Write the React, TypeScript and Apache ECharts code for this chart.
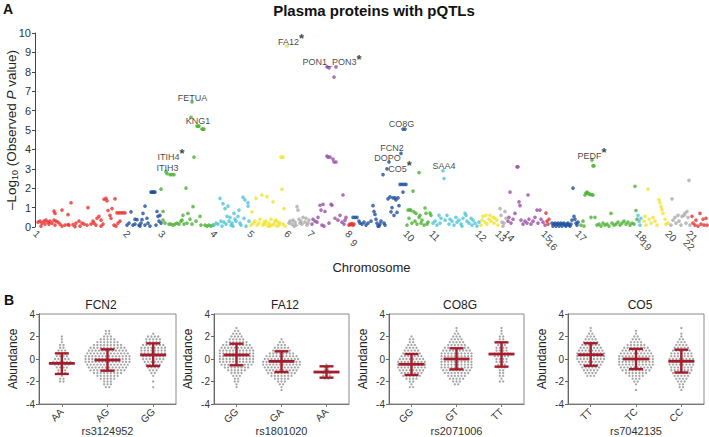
import React, { useEffect, useRef } from 'react';
import * as echarts from 'echarts';

const FONT = '"Liberation Sans", Arial, Helvetica, sans-serif';

// ---------- Panel A: Manhattan plot ----------
const chromosomeNames = ['1','2','3','4','5','6','7','8','9','10','11','12','13','14','15','16','17','18','19','20','21','22'];
const chromosomeTickPos = [0, 90, 125, 177, 214, 251, 274, 312, 317, 370, 396, 442, 462, 470, 508, 513, 542, 602, 607, 632, 653, 650];
const lowerRowChromosomes = ['9', '16', '19', '22'];
const chromosomeColors = ['#e8322e', '#1f4f9e', '#4cb133', '#4fc4da', '#f1e42a', '#ababab', '#9b4ea7'];

const chr1 = [[3,0.25],[5,0.3],[7,0.2],[9,0.3],[11,0.35],[13,0.25],[15,0.3],[17,0.2],[19,0.35],[21,0.3],[23,0.25],[25,0.15],[20,0.1],[14,0.15],[19,0.82],[20,0.7],[27,0.87],[33,0.64],[36,1.25],[34,0.1],[27,0.05],[30,0.1],[38,0.12],[41,0.2],[44,0.3],[47,0.2],[49,0.15],[52,0.1],[53,1.0],[56,0.15],[59,0.2],[61,0.1],[62,0.45],[64,0.55],[66,0.05],[68,0.15],[69,1.43],[71,1.48],[72,1.35],[73,0.85],[75,0.6],[66,0.35],[77,0.95],[79,0.1],[80,1.45],[81,0.05],[83,0.2],[85,0.3],[82,0.73],[84,0.73],[86,0.73],[88,0.73],[90,0.73],[76,0.45],[58,0.3],[45,0.05],[40,0.02],[33,0.12],[10,0.15],[6,0.05]];
const chr2 = [[92,0.1],[94,0.2],[96,0.78],[98,0.1],[100,0.15],[102,0.38],[104,0.1],[106,0.2],[107,0.38],[108,0.7],[110,1.08],[110,0.1],[112,0.45],[113,0.2],[115,0.05],[116,1.8],[117,1.8],[118,1.8],[119,1.8],[120,1.8],[121,0.1],[122,0.8],[123,0.55],[124,0.3],[125,0.6],[126,0.2],[100,0.4],[105,0.05]];
const chr3 = [[126,1.95],[128,0.8],[128,0.35],[131,2.85],[132,2.75],[135,2.7],[137,2.7],[139,2.7],[130,0.2],[134,0.15],[136,0.15],[138,0.1],[140,0.15],[142,0.2],[144,0.15],[146,0.3],[147,0.35],[148,0.6],[149,0.15],[151,2.0],[152,0.2],[153,0.7],[155,0.4],[156,5.65],[157,6.45],[157,0.15],[158,1.05],[159,3.6],[162,5.2],[163,5.2],[164,5.2],[165,0.55],[166,0.1],[167,5.05],[168,5.05],[169,5.05],[170,0.1],[172,0.05],[174,0.1],[176,0.05],[178,0.1],[161,0.3]];
const chr4 = [[179,0.1],[181,0.2],[183,0.15],[185,1.48],[186,0.3],[187,0.05],[188,1.2],[189,0.25],[190,0.95],[191,0.15],[193,1.08],[194,0.3],[195,0.5],[196,0.1],[197,0.2],[199,0.7],[200,0.4],[201,0.3],[203,0.55],[204,0.87],[205,0.2],[206,0.1],[208,1.53],[209,0.45],[210,1.4],[211,0.05],[213,1.25],[213,1.08],[214,0.3],[192,0.55],[198,0.05]];
const chr5 = [[216,0.1],[217,0.78],[218,0.2],[220,0.3],[221,1.48],[222,0.1],[224,0.2],[225,0.4],[227,1.65],[228,0.1],[229,0.25],[230,0.15],[231,0.3],[232,1.57],[233,0.05],[234,0.2],[236,0.4],[237,0.1],[238,1.3],[239,0.15],[240,0.3],[242,0.05],[243,0.25],[244,0.1],[245,0.2],[246,3.6],[248,3.6],[247,1.95],[248,0.15],[249,0.95],[250,0.05],[252,9.33],[241,0.35],[235,0.05]];
const chr6 = [[254,0.2],[255,0.3],[257,0.15],[258,0.35],[260,0.25],[261,0.1],[262,1.05],[263,0.87],[264,0.4],[265,0.2],[266,0.3],[267,0.15],[268,0.5],[270,0.25],[271,0.45],[272,0.1],[273,0.2],[274,0.35],[259,0.05]];
const chr7 = [[277,0.15],[278,0.4],[280,0.3],[282,0.25],[283,0.5],[285,1.12],[286,0.87],[287,0.1],[288,1.17],[290,0.8],[292,3.66],[293,3.6],[295,3.6],[298,3.5],[299,3.35],[301,3.35],[292,8.25],[294,8.2],[301,8.25],[299,7.73],[296,1.17],[297,1.12],[294,0.2],[300,0.45],[303,0.35],[305,0.6],[307,0.25],[308,1.65],[309,0.15],[310,0.35],[311,0.5],[289,0.05]];
const chr8 = [[314,0.1],[315,0.15],[316,0.12],[317,0.18],[318,0.1],[319,0.15]];
const chr9 = [[318,0.5],[320,0.5],[322,0.5],[324,0.3],[325,0.2],[327,0.15],[329,0.25],[331,0.1],[333,0.2],[336,0.3],[338,1.1],[339,0.8],[340,0.65],[341,0.4],[342,0.2],[344,0.05],[345,0.15],[346,0.3],[348,2.7],[349,0.2],[350,0.1],[352,3.0],[353,1.45],[354,3.35],[355,1.55],[356,0.78],[357,1.0],[358,1.5],[359,0.6],[360,1.5],[361,1.4],[362,0.75],[363,1.5],[364,1.1],[365,2.2],[366,3.8],[367,2.2],[368,5.05],[369,2.2],[370,5.05],[371,2.2],[368,1.8],[343,0.05]];
const chr10 = [[372,0.1],[373,0.87],[374,0.45],[375,0.9],[376,0.85],[377,0.2],[378,1.85],[379,0.78],[380,0.3],[381,0.7],[382,0.15],[384,2.8],[385,0.6],[386,0.2],[387,0.35],[389,0.1],[390,0.98],[391,0.7],[392,0.15],[393,0.25],[395,0.72],[396,0.6],[384,0.5]];
const chr11 = [[398,0.2],[400,0.3],[402,0.1],[404,0.6],[405,0.2],[406,0.45],[408,2.9],[409,2.5],[410,0.35],[412,0.6],[414,0.15],[415,0.4],[417,0.3],[419,0.1],[421,0.5],[422,0.25],[424,0.35],[426,0.15],[428,0.45],[430,0.7],[431,0.6],[432,0.3],[434,0.2],[436,0.45],[437,0.1],[438,0.35],[440,0.2],[442,0.05],[444,0.25],[427,0.05]];
const chr12 = [[446,0.1],[447,0.35],[448,0.55],[450,0.25],[451,0.6],[452,0.15],[454,0.4],[455,0.6],[456,0.3],[458,0.5],[459,0.2],[460,0.45],[462,0.35],[463,0.1]];
const chr13 = [[465,0.95],[466,0.6],[467,0.25],[468,0.05],[470,0.8],[471,0.45],[469,0.2]];
const chr14 = [[473,0.3],[474,0.5],[475,1.8],[476,0.2],[478,0.4],[480,0.7],[482,3.1],[483,3.1],[484,1.3],[485,1.1],[486,0.35],[488,0.15],[490,0.3],[492,0.2],[493,1.65],[494,0.4],[496,0.15],[498,0.3],[500,0.5],[502,0.87],[503,0.2],[505,0.87],[506,0.4],[508,0.25],[510,0.1]];
const chr15 = [[511,0.72],[512,0.3],[513,0.15],[514,0.4]];
const chr16 = [[517,0.2],[518,0.05],[519,0.15],[520,0.2],[521,0.05],[522,0.15],[523,0.2],[524,0.05],[525,0.15],[526,0.2],[527,0.05],[528,0.15],[529,0.2],[530,0.1],[531,0.05],[532,0.15],[533,0.2],[534,0.1],[535,0.05],[536,0.15],[537,0.35],[538,2.0],[539,0.55],[540,0.4],[541,0.2],[542,0.1],[543,0.25]];
const chr17 = [[546,0.1],[548,0.3],[549,0.05],[550,1.65],[551,1.75],[552,1.8],[553,1.75],[554,1.7],[555,1.68],[557,1.65],[558,1.65],[557,3.45],[558,3.15],[559,3.15],[556,0.5],[560,0.5],[562,0.1],[564,0.15],[566,0.05],[568,0.2],[570,0.1],[572,0.15],[574,0.05],[576,0.7],[577,0.2],[579,0.1],[581,0.15],[583,0.25],[585,0.1],[587,0.2],[589,0.3],[591,0.15],[593,0.25],[595,0.1],[597,0.2],[600,2.1],[601,0.85],[602,0.4],[599,0.15]];
const chr18 = [[603,0.6],[604,0.3],[605,0.1],[606,0.45]];
const chr19 = [[609,0.3],[610,0.55],[611,0.1],[613,1.95],[614,0.4],[616,0.2],[618,0.5],[620,0.3],[622,0.1],[624,1.4],[625,1.25],[626,1.05],[627,0.9],[628,0.7],[630,0.4],[631,0.15],[633,0.2]];
const chr20 = [[636,0.1],[637,1.45],[638,0.35],[640,0.5],[641,0.2],[643,0.6],[644,0.3],[646,0.1],[647,0.55],[649,0.6],[650,0.7],[651,0.2],[652,0.8],[653,0.5],[654,2.4],[655,0.1]];
const chr21: number[][] = [];
const chr22 = [[657,0.55],[658,0.2],[660,0.1],[661,0.35],[663,0.05],[665,0.7],[666,0.15],[668,0.4],[669,0.1],[671,0.45],[672,0.1]];
const chromosomes = [chr1,chr2,chr3,chr4,chr5,chr6,chr7,chr8,chr9,chr10,chr11,chr12,chr13,chr14,chr15,chr16,chr17,chr18,chr19,chr20,chr21,chr22];

const annotationNames = ['FA12', 'PON1_PON3', 'FETUA', 'KNG1', 'ITIH4', 'ITIH3', 'CO8G', 'FCN2', 'DOPO', 'CO5', 'SAA4', 'PEDF'];
const annotationStar = [true, true, false, false, true, false, false, false, false, true, false, true];
const annotationPos = [256, 297, 157.5, 163, 136, 132.5, 366.5, 357, 352.5, 365, 409, 557];
const annotationVal = [9.54, 8.5, 6.65, 5.46, 3.61, 3.04, 5.31, 4.07, 3.56, 2.99, 3.14, 3.66];

// ---------- Panel B: beeswarm plots ----------
const levels = [-2.75,-2.5,-2.25,-2,-1.75,-1.5,-1.25,-1,-0.75,-0.5,-0.25,0,0.25,0.5,0.75,1,1.25,1.5,1.75,2,2.25,2.5,2.75];

const fcn2Genotypes = ['AA', 'AG', 'GG'];
const fcn2AA = [0,0,0,2,2,1,3,3,4,5,6,5,4,3,3,2,2,1,1,1,0,0,0];
const fcn2AG = [0,2,3,3,5,7,9,11,12,13,14,14,14,13,12,11,9,7,5,3,2,2,0];
const fcn2GG = [0,1,0,1,0,1,2,3,4,5,6,7,7,8,8,8,7,5,5,4,1,0,0];
const fcn2Mean = [-0.39, -0.09, 0.36];
const fcn2Low = [-1.33, -1.04, -0.62];
const fcn2High = [0.5, 0.86, 1.39];

const fa12Genotypes = ['GG', 'GA', 'AA'];
const fa12GG = [0,1,1,2,2,3,4,6,8,10,11,11,11,11,11,10,9,7,5,4,3,2,1];
const fa12GA = [1,1,2,3,5,7,9,10,11,12,12,11,10,8,6,5,3,2,1,0,0,0,0];
const fa12AA = [0,0,0,0,2,3,3,2,2,1,0,0,0,0,0,0,0,0,0,0,0,0,0];
const fa12Mean = [0.36, -0.21, -1.16];
const fa12Low = [-0.56, -1.16, -1.66];
const fa12High = [1.36, 0.68, -0.65];

const co8gGenotypes = ['GG', 'GT', 'TT'];
const co8gGG = [0,2,1,2,4,6,7,8,9,9,9,8,7,6,5,4,3,2,2,1,0,0,0];
const co8gGT = [0,0,2,3,5,6,8,9,10,10,10,10,10,10,9,8,6,5,4,3,2,1,1];
const co8gTT = [0,0,0,2,1,2,2,2,3,3,4,4,5,5,4,4,3,2,2,2,1,1,1];
const co8gMean = [-0.47, 0.0, 0.44];
const co8gLow = [-1.42, -0.92, -0.68];
const co8gHigh = [0.44, 0.95, 1.48];

const co5Genotypes = ['TT', 'TC', 'CC'];
const co5TT = [0,0,0,0,0,3,4,5,6,7,8,9,9,9,8,7,6,5,4,3,2,1,1];
const co5TC = [1,0,1,2,3,5,7,9,10,11,11,11,11,10,9,8,6,4,3,2,1,1,0];
const co5CC = [1,2,2,3,4,5,6,7,7,8,8,8,7,7,6,5,4,3,2,1,1,0,1];
const co5Mean = [0.38, 0.0, -0.2];
const co5Low = [-0.6, -0.9, -1.2];
const co5High = [1.4, 0.9, 0.83];

const panelTitles = ['FCN2', 'FA12', 'CO8G', 'CO5'];
const panelSnps = ['rs3124952', 'rs1801020', 'rs2071006', 'rs7042135'];

function buildOption() {
  const panels = [
    { genotypes: fcn2Genotypes, counts: [fcn2AA, fcn2AG, fcn2GG], mean: fcn2Mean, low: fcn2Low, high: fcn2High },
    { genotypes: fa12Genotypes, counts: [fa12GG, fa12GA, fa12AA], mean: fa12Mean, low: fa12Low, high: fa12High },
    { genotypes: co8gGenotypes, counts: [co8gGG, co8gGT, co8gTT], mean: co8gMean, low: co8gLow, high: co8gHigh },
    { genotypes: co5Genotypes, counts: [co5TT, co5TC, co5CC], mean: co5Mean, low: co5Low, high: co5High },
  ];
  const panelGrids = [
    { left: 39, top: 314, width: 137, height: 90 },
    { left: 214, top: 314, width: 135, height: 90 },
    { left: 389, top: 314, width: 135, height: 90 },
    { left: 568, top: 314, width: 136, height: 90 },
  ];
  const titleX = [101, 285, 460, 640];

  const upperIdx = chromosomeNames.map((n, i) => i).filter(i => lowerRowChromosomes.indexOf(chromosomeNames[i]) < 0);
  const lowerIdx = chromosomeNames.map((n, i) => i).filter(i => lowerRowChromosomes.indexOf(chromosomeNames[i]) >= 0);
  const nameAtIdx = (idxs: number[]) => (v: number) => {
    const i = idxs.find(k => Math.abs(chromosomeTickPos[k] - v) < 0.01);
    return i !== undefined ? chromosomeNames[i] : '';
  };

  const grids: any[] = [{ left: 35, top: 33, width: 673, height: 194, outerBoundsMode: 'none', containLabel: false }];
  const xAxes: any[] = [
    {
      gridIndex: 0, type: 'value', position: 'bottom', min: 0, max: 673,
      axisLine: { show: false }, axisTick: { show: false }, splitLine: { show: false },
      axisLabel: { customValues: upperIdx.map(i => chromosomeTickPos[i]), formatter: nameAtIdx(upperIdx), rotate: -45, fontSize: 10, color: '#444', margin: 5, fontFamily: FONT },
      name: 'Chromosome', nameLocation: 'middle', nameGap: 34,
      nameTextStyle: { fontSize: 13, color: '#222', fontFamily: FONT },
    },
    {
      gridIndex: 0, type: 'value', position: 'bottom', min: 0, max: 673,
      axisLine: { show: false }, axisTick: { show: false }, splitLine: { show: false },
      axisLabel: { customValues: lowerIdx.map(i => chromosomeTickPos[i]), formatter: nameAtIdx(lowerIdx), rotate: -45, fontSize: 10, color: '#444', margin: 14, fontFamily: FONT },
    },
  ];
  const yAxes: any[] = [
    {
      gridIndex: 0, type: 'value', min: 0, max: 10, interval: 1,
      axisLine: { show: true, onZero: false, lineStyle: { color: '#444', width: 1 } },
      axisTick: { show: true, length: 3, lineStyle: { color: '#444' } },
      splitLine: { show: false },
      axisLabel: { fontSize: 11, color: '#333', margin: 4, fontFamily: FONT },
      name: '{a|–Log}{b|10}{a| (Observed }{i|P}{a| value)}',
      nameLocation: 'middle', nameGap: 16, nameMoveOverlap: false,
      nameTextStyle: {
        fontFamily: FONT, color: '#222',
        rich: {
          a: { fontSize: 13.5, fontFamily: FONT, color: '#222' },
          b: { fontSize: 9, fontFamily: FONT, color: '#222', padding: [6, 0, 0, 0] },
          i: { fontSize: 13.5, fontFamily: FONT, fontStyle: 'italic', color: '#222' },
        },
      },
    },
  ];

  const series: any[] = [];
  chromosomes.forEach((pts, i) => {
    if (!pts.length) return;
    series.push({
      type: 'scatter', xAxisIndex: 0, yAxisIndex: 0, data: pts, symbolSize: 3.7,
      itemStyle: { color: chromosomeColors[i % chromosomeColors.length] }, silent: true, z: 2,
    });
  });
  series.push({
    type: 'scatter', xAxisIndex: 0, yAxisIndex: 0, symbolSize: 0, silent: true, z: 4,
    data: annotationNames.map((n, i) => ({ value: [annotationPos[i], annotationVal[i]], name: n })),
    label: {
      show: true, position: 'inside', align: 'center', verticalAlign: 'middle',
      formatter: (p: any) => `{n|${annotationNames[p.dataIndex]}}` + (annotationStar[p.dataIndex] ? '{s|*}' : ''),
      rich: {
        n: { fontSize: 9, color: '#111', fontFamily: FONT },
        s: { fontSize: 13, fontWeight: 'bold', color: '#111', fontFamily: FONT, padding: [0, 0, 6, 0] },
      },
    },
  });

  const dx = 0.074;
  const barColor = '#a51d2d';
  panels.forEach((p, pi) => {
    const g = pi + 1;
    const xi = pi + 2;
    grids.push({ ...panelGrids[pi], show: true, borderColor: '#8a8a8a', borderWidth: 1, outerBoundsMode: 'none', containLabel: false });
    xAxes.push({
      gridIndex: g, type: 'value', position: 'bottom', min: 0.5, max: 3.5,
      axisLine: { show: true, onZero: false, lineStyle: { color: '#777' } },
      axisTick: { show: true, customValues: [1, 2, 3], length: 3, lineStyle: { color: '#777' } },
      splitLine: { show: false },
      axisLabel: { customValues: [1, 2, 3], formatter: (v: number) => p.genotypes[Math.round(v) - 1], rotate: 45, fontSize: 10, color: '#333', margin: 6, fontFamily: FONT },
      name: panelSnps[pi], nameLocation: 'middle', nameGap: 21, nameMoveOverlap: false,
      nameTextStyle: { fontSize: 11, color: '#333', fontFamily: FONT },
    });
    yAxes.push({
      gridIndex: g, type: 'value', min: -4, max: 4, interval: 2,
      axisLine: { show: true, onZero: false, lineStyle: { color: '#666' } },
      axisTick: { show: true, length: 3, lineStyle: { color: '#666' } },
      splitLine: { show: false },
      axisLabel: { fontSize: 10, color: '#333', margin: 4, fontFamily: FONT },
      name: 'Abundance', nameLocation: 'middle', nameGap: 20, nameMoveOverlap: false,
      nameTextStyle: { fontSize: 12, color: '#222', fontFamily: FONT },
    });
    const pts: number[][] = [];
    p.counts.forEach((cnts, k) => {
      cnts.forEach((n, j) => {
        for (let i = 0; i < n; i++) pts.push([k + 1 + (i - (n - 1) / 2) * dx, levels[j]]);
      });
    });
    series.push({
      type: 'scatter', xAxisIndex: xi, yAxisIndex: g, data: pts, symbolSize: 2.3, silent: true,
      itemStyle: { color: '#8e8e8e' }, z: 2,
    });
    series.push({
      type: 'custom', xAxisIndex: xi, yAxisIndex: g, silent: true, z: 5,
      data: p.mean.map((m, k) => [k + 1, m, p.low[k], p.high[k]]),
      encode: { x: 0, y: [1, 2, 3] },
      renderItem: (params: any, api: any) => {
        const k = api.value(0);
        const c = api.coord([k, api.value(1)]);
        const lo = api.coord([k, api.value(2)])[1];
        const hi = api.coord([k, api.value(3)])[1];
        const st = { stroke: barColor, lineWidth: 2.4 };
        return {
          type: 'group',
          children: [
            { type: 'line', shape: { x1: c[0], y1: hi, x2: c[0], y2: lo }, style: st },
            { type: 'line', shape: { x1: c[0] - 13, y1: c[1], x2: c[0] + 13, y2: c[1] }, style: { stroke: barColor, lineWidth: 2.8 } },
            { type: 'line', shape: { x1: c[0] - 7, y1: hi, x2: c[0] + 7, y2: hi }, style: st },
            { type: 'line', shape: { x1: c[0] - 7, y1: lo, x2: c[0] + 7, y2: lo }, style: st },
          ],
        };
      },
    });
  });

  const graphics: any[] = [
    { type: 'text', x: 374, y: 10, style: { text: 'Plasma proteins with pQTLs', fontSize: 15, fontWeight: 'bold', fontFamily: FONT, fill: '#111', align: 'center', verticalAlign: 'middle' } },
    { type: 'text', x: 8, y: 9, style: { text: 'A', fontSize: 14, fontWeight: 'bold', fontFamily: FONT, fill: '#111', align: 'center', verticalAlign: 'middle' } },
    { type: 'text', x: 9, y: 300, style: { text: 'B', fontSize: 14, fontWeight: 'bold', fontFamily: FONT, fill: '#111', align: 'center', verticalAlign: 'middle' } },
  ];
  panelTitles.forEach((t, i) => {
    graphics.push({ type: 'text', x: titleX[i], y: 305, style: { text: t, fontSize: 12, fontFamily: FONT, fill: '#222', align: 'center', verticalAlign: 'middle' } });
  });

  return {
    animation: false,
    backgroundColor: '#ffffff',
    textStyle: { fontFamily: FONT },
    grid: grids,
    xAxis: xAxes,
    yAxis: yAxes,
    series,
    graphic: graphics,
  };
}

export default function App() {
  const ref = useRef<HTMLDivElement>(null);
  useEffect(() => {
    const chart = echarts.init(ref.current!, null, { renderer: 'svg' });
    chart.setOption(buildOption() as any);
    return () => chart.dispose();
  }, []);
  return <div ref={ref} style={{ position: 'absolute', left: 0, top: 0, width: 709, height: 437, background: '#fff' }} />;
}
